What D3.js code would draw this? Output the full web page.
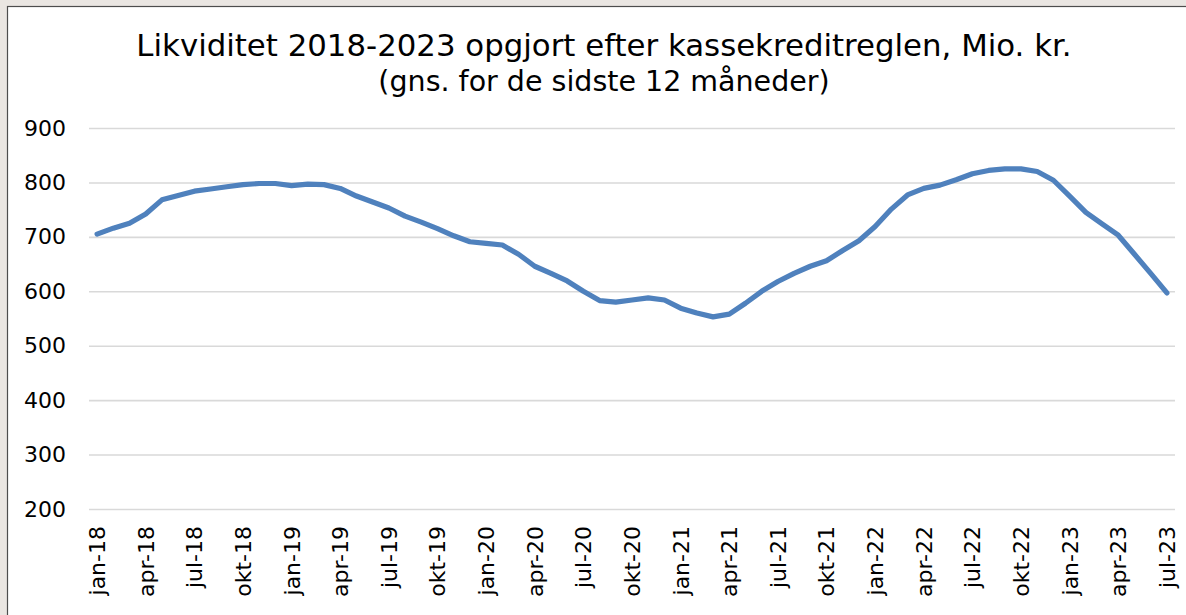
<!DOCTYPE html>
<html>
<head>
<meta charset="utf-8">
<script src="https://cdn.jsdelivr.net/npm/d3@7"></script>
<style>
  html, body { margin: 0; padding: 0; background: #eae6e2; }
  svg { display: block; }
  text { font-family: "DejaVu Sans", Verdana, sans-serif; fill: #000; }
</style>
</head>
<body>
<svg id="chart" width="1186" height="615"></svg>
<script>
// ---- data ----
const titleLines = ["Likviditet 2018-2023 opgjort efter kassekreditreglen, Mio. kr.",
                    "(gns. for de sidste 12 måneder)"];
const categories = [
  "jan-18","feb-18","mar-18","apr-18","maj-18","jun-18","jul-18","aug-18","sep-18","okt-18","nov-18","dec-18",
  "jan-19","feb-19","mar-19","apr-19","maj-19","jun-19","jul-19","aug-19","sep-19","okt-19","nov-19","dec-19",
  "jan-20","feb-20","mar-20","apr-20","maj-20","jun-20","jul-20","aug-20","sep-20","okt-20","nov-20","dec-20",
  "jan-21","feb-21","mar-21","apr-21","maj-21","jun-21","jul-21","aug-21","sep-21","okt-21","nov-21","dec-21",
  "jan-22","feb-22","mar-22","apr-22","maj-22","jun-22","jul-22","aug-22","sep-22","okt-22","nov-22","dec-22",
  "jan-23","feb-23","mar-23","apr-23","maj-23","jun-23","jul-23"
];
const values = [
  705,716,725,742,768,776,784,788,792,796,798,798,
  794,797,796,789,775,764,753,738,727,715,702,691,
  688,685,668,646,633,619,600,583,580,584,588,584,
  569,560,553,558,578,600,618,633,646,656,675,693,
  719,751,777,789,795,805,816,822,825,825,820,804,
  775,745,724,703,668,633,597
];
const xTickLabels = ["jan-18","apr-18","jul-18","okt-18","jan-19","apr-19","jul-19","okt-19",
  "jan-20","apr-20","jul-20","okt-20","jan-21","apr-21","jul-21","okt-21",
  "jan-22","apr-22","jul-22","okt-22","jan-23","apr-23","jul-23"];
const yTicks = [200,300,400,500,600,700,800,900];

// ---- layout ----
const W = 1186, H = 615;
const plot = {left: 89, right: 1175, top: 128, bottom: 509};
const svg = d3.select("#chart");

// frame
svg.append("rect").attr("x",0).attr("y",0).attr("width",W).attr("height",H).attr("fill","#eae6e2");
svg.append("rect").attr("x",7.5).attr("y",6.5).attr("width",W+10).attr("height",H+10)
   .attr("fill","#ffffff").attr("stroke","#4d4d4d").attr("stroke-width",1.2);

const x = d3.scaleBand().domain(categories).range([plot.left, plot.right]).padding(0);
const y = d3.scaleLinear().domain([200,900]).range([plot.bottom, plot.top]);
const cx = d => x(d) + x.bandwidth()/2;

// gridlines
const grid = svg.append("g").attr("transform",`translate(${plot.left},0)`)
  .call(d3.axisLeft(y).tickValues(yTicks).tickSize(-(plot.right-plot.left)).tickFormat(""));
grid.select(".domain").remove();
grid.selectAll(".tick line").attr("stroke","#d9d9d9").attr("stroke-width",1.6);

// y axis labels
const yAxis = svg.append("g").attr("transform",`translate(${plot.left},0)`)
  .call(d3.axisLeft(y).tickValues(yTicks).tickSize(0).tickPadding(23).tickFormat(d3.format("d")));
yAxis.select(".domain").remove();
yAxis.selectAll("text").style("font-size","22px").style("font-family","DejaVu Sans").attr("fill","#000");

// x axis labels
const xAxis = svg.append("g").attr("transform",`translate(0,${plot.bottom})`)
  .call(d3.axisBottom(x).tickValues(xTickLabels).tickSize(0));
xAxis.select(".domain").remove();
xAxis.selectAll("text")
  .style("font-size","22px").style("font-family","DejaVu Sans").attr("fill","#000")
  .attr("text-anchor","end")
  .attr("transform","rotate(-90)")
  .attr("x",-17).attr("y",0).attr("dy","0.36em");

// line
const line = d3.line().x((d,i) => cx(categories[i])).y(d => y(d));
svg.append("path").datum(values).attr("d",line)
  .attr("fill","none").attr("stroke","#4f81bd").attr("stroke-width",5.2)
  .attr("stroke-linejoin","round").attr("stroke-linecap","round");

// title
const title = svg.append("text").attr("text-anchor","middle");
title.append("tspan").attr("x",604).attr("y",56).style("font-size","30.8px").text(titleLines[0]);
title.append("tspan").attr("x",604).attr("y",91).style("font-size","28.5px").text(titleLines[1]);
</script>
</body>
</html>
